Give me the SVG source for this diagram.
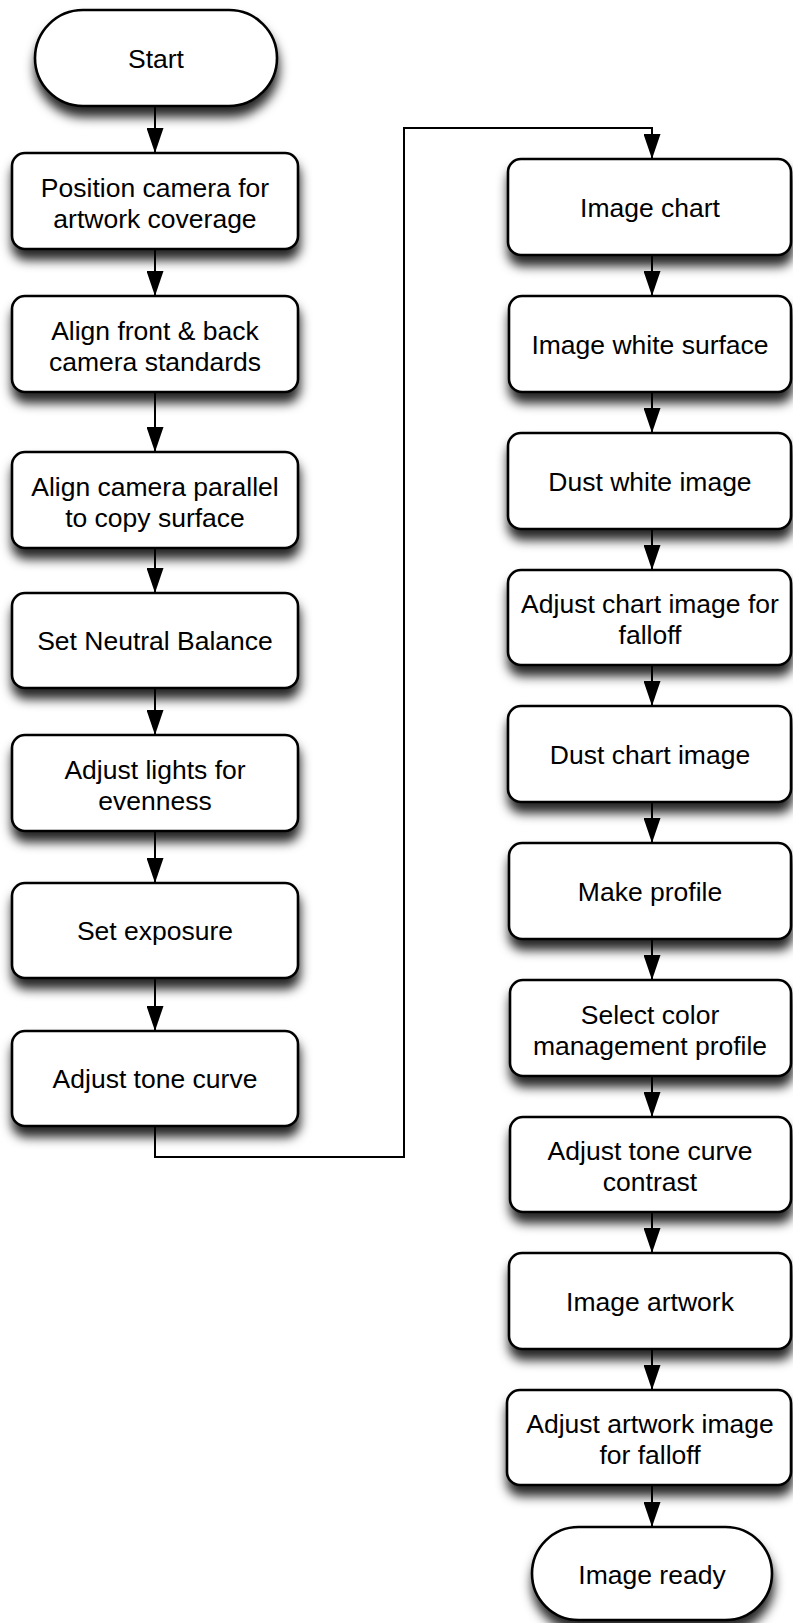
<svg xmlns="http://www.w3.org/2000/svg" width="793" height="1623" viewBox="0 0 793 1623">
<defs>
<style>
.box{fill:#fff;stroke:#000;stroke-width:2.6;filter:url(#sh)}
.t{font-family:"Liberation Sans",Arial,sans-serif;font-size:26.5px;fill:#000;text-anchor:middle}
.c{fill:none;stroke:#000;stroke-width:2}
</style>
<filter id="sh" x="-20%" y="-30%" width="140%" height="170%">
<feDropShadow dx="1" dy="10" stdDeviation="5.5" flood-color="#000" flood-opacity="0.85"/>
</filter>
<marker id="ar" markerUnits="userSpaceOnUse" markerWidth="25" markerHeight="17" refX="25" refY="8.5" viewBox="0 0 25 17" orient="auto">
<path d="M0,0 L25,8.5 L0,17 Z" fill="#000"/>
</marker>
</defs>
<rect width="793" height="1623" fill="#fff"/>
<g id="connectors">
<path class="c" d="M155,106 V153" marker-end="url(#ar)"/>
<path class="c" d="M155,249 V296" marker-end="url(#ar)"/>
<path class="c" d="M155,392 V452" marker-end="url(#ar)"/>
<path class="c" d="M155,548 V593" marker-end="url(#ar)"/>
<path class="c" d="M155,688 V735" marker-end="url(#ar)"/>
<path class="c" d="M155,831 V883" marker-end="url(#ar)"/>
<path class="c" d="M155,978 V1031" marker-end="url(#ar)"/>
<path class="c" d="M155,1126 V1157 H404 V128 H652 V159" marker-end="url(#ar)"/>
<path class="c" d="M652,255 V296" marker-end="url(#ar)"/>
<path class="c" d="M652,392 V433" marker-end="url(#ar)"/>
<path class="c" d="M652,529 V570" marker-end="url(#ar)"/>
<path class="c" d="M652,665 V706" marker-end="url(#ar)"/>
<path class="c" d="M652,802 V843" marker-end="url(#ar)"/>
<path class="c" d="M652,939 V980" marker-end="url(#ar)"/>
<path class="c" d="M652,1076 V1117" marker-end="url(#ar)"/>
<path class="c" d="M652,1212 V1253" marker-end="url(#ar)"/>
<path class="c" d="M652,1349 V1390" marker-end="url(#ar)"/>
<path class="c" d="M652,1485 V1527" marker-end="url(#ar)"/>
</g>
<g id="start"><rect class="box" x="35" y="10" width="242" height="96" rx="48"/><text class="t" x="156" y="68">Start</text></g>
<g id="position"><rect class="box" x="12" y="153" width="286" height="96" rx="13"/><text class="t" x="155" y="197">Position camera for</text><text class="t" x="155" y="228">artwork coverage</text></g>
<g id="alignfront"><rect class="box" x="12" y="296" width="286" height="96" rx="13"/><text class="t" x="155" y="340">Align front &amp; back</text><text class="t" x="155" y="371">camera standards</text></g>
<g id="alignparallel"><rect class="box" x="12" y="452" width="286" height="96" rx="13"/><text class="t" x="155" y="496">Align camera parallel</text><text class="t" x="155" y="527">to copy surface</text></g>
<g id="neutral"><rect class="box" x="12" y="593" width="286" height="95" rx="13"/><text class="t" x="155" y="650">Set Neutral Balance</text></g>
<g id="lights"><rect class="box" x="12" y="735" width="286" height="96" rx="13"/><text class="t" x="155" y="779">Adjust lights for</text><text class="t" x="155" y="810">evenness</text></g>
<g id="exposure"><rect class="box" x="12" y="883" width="286" height="95" rx="13"/><text class="t" x="155" y="940">Set exposure</text></g>
<g id="tone"><rect class="box" x="12" y="1031" width="286" height="95" rx="13"/><text class="t" x="155" y="1088">Adjust tone curve</text></g>
<g id="imagechart"><rect class="box" x="508" y="159" width="283" height="96" rx="13"/><text class="t" x="650" y="217">Image chart</text></g>
<g id="whitesurface"><rect class="box" x="509" y="296" width="282" height="96" rx="13"/><text class="t" x="650" y="354">Image white surface</text></g>
<g id="dustwhite"><rect class="box" x="508" y="433" width="283" height="96" rx="13"/><text class="t" x="650" y="491">Dust white image</text></g>
<g id="chartfalloff"><rect class="box" x="508" y="570" width="283" height="95" rx="13"/><text class="t" x="650" y="613">Adjust chart image for</text><text class="t" x="650" y="644">falloff</text></g>
<g id="dustchart"><rect class="box" x="508" y="706" width="283" height="96" rx="13"/><text class="t" x="650" y="764">Dust chart image</text></g>
<g id="profile"><rect class="box" x="509" y="843" width="282" height="96" rx="13"/><text class="t" x="650" y="901">Make profile</text></g>
<g id="colormgmt"><rect class="box" x="510" y="980" width="281" height="96" rx="13"/><text class="t" x="650" y="1024">Select color</text><text class="t" x="650" y="1055">management profile</text></g>
<g id="tonecontrast"><rect class="box" x="510" y="1117" width="281" height="95" rx="13"/><text class="t" x="650" y="1160">Adjust tone curve</text><text class="t" x="650" y="1191">contrast</text></g>
<g id="artwork"><rect class="box" x="509" y="1253" width="282" height="96" rx="13"/><text class="t" x="650" y="1311">Image artwork</text></g>
<g id="artworkfalloff"><rect class="box" x="507" y="1390" width="284" height="95" rx="13"/><text class="t" x="650" y="1433">Adjust artwork image</text><text class="t" x="650" y="1464">for falloff</text></g>
<g id="ready"><rect class="box" x="532" y="1527" width="240" height="93" rx="46.5"/><text class="t" x="652" y="1584">Image ready</text></g>
</svg>
